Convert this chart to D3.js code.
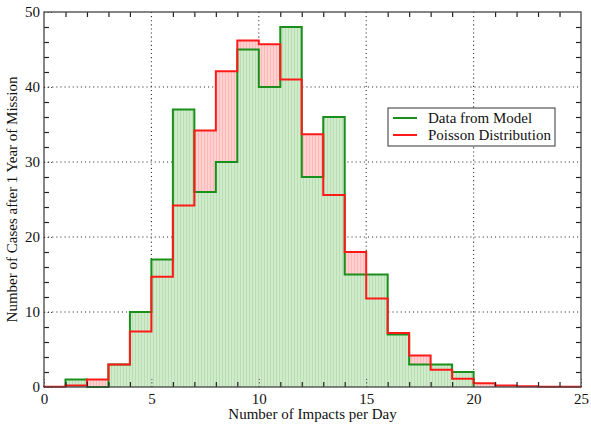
<!DOCTYPE html>
<meta charset="utf-8">
<html>
<head>
<title>Impacts histogram</title>
<script src="https://d3js.org/d3.v7.min.js"></script>
<style>
body { margin: 0; background: #fff; }
svg text { font-family: "Liberation Serif", "Times New Roman", "DejaVu Serif", serif !important; }
.grid line { stroke: #333; stroke-width: 1.1px; stroke-dasharray: 1.1,3; }
</style>
</head>
<body>
<script>
// histogram from the model, bins of width 1 starting at 1
var modelStart = 1;
var modelCounts = [1, 0, 3, 10, 17, 37, 26, 30, 45, 40, 48, 28, 36, 15, 15, 7, 3, 3, 2];
// poisson distribution, bins of width 1 starting at 0
var poissonStart = 0;
var poissonCounts = [0.05, 0.2, 1.0, 3.0, 7.4, 14.7, 24.2, 34.2, 42.1, 46.2, 45.7, 41.0, 33.7,
                     25.6, 18.0, 11.8, 7.2, 4.2, 2.3, 1.1, 0.5, 0.2, 0.1, 0.05, 0.02];
var xMajor = [0, 5, 10, 15, 20, 25];
var yMajor = [0, 10, 20, 30, 40, 50];
var legendNames = ["Data from Model", "Poisson Distribution"];

var W = 591, H = 424;
var mLeft = 44, mRight = 581, mTop = 12, mBottom = 387;

var svg = d3.select("body").append("svg").attr("width", W).attr("height", H);

var x = d3.scaleLinear().domain([0, 25]).range([mLeft, mRight]);
var y = d3.scaleLinear().domain([0, 50]).range([mBottom, mTop]);

// hatch patterns for the fills
var defs = svg.append("defs");
function hatch(id, base, stripe) {
  var p = defs.append("pattern").attr("id", id).attr("patternUnits", "userSpaceOnUse")
    .attr("width", 3).attr("height", 3);
  p.append("rect").attr("width", 3).attr("height", 3).attr("fill", base);
  p.append("rect").attr("width", 1).attr("height", 3).attr("fill", stripe);
}
hatch("gfill", "#d0ebcb", "#b9deb2");
hatch("rfill", "#ffd0d0", "#ffb8b8");

// grid
var grid = svg.append("g").attr("class", "grid");
grid.selectAll(".gx").data(xMajor.slice(1, -1)).enter().append("line")
  .attr("x1", d => x(d)).attr("x2", d => x(d)).attr("y1", mTop).attr("y2", mBottom);
grid.selectAll(".gy").data(yMajor.slice(1, -1)).enter().append("line")
  .attr("y1", d => y(d)).attr("y2", d => y(d)).attr("x1", mLeft).attr("x2", mRight);

// turn bin counts into step outline points
function steps(start, counts) {
  var pts = [[start, 0]];
  counts.forEach(function (v, i) {
    pts.push([start + i, v]);
    pts.push([start + i + 1, v]);
  });
  pts.push([start + counts.length, 0]);
  return pts;
}
var gPts = steps(modelStart, modelCounts);
var rPts = steps(poissonStart, poissonCounts);

var area = d3.area().x(d => x(d[0])).y0(y(0)).y1(d => y(d[1]));
var line = d3.line().x(d => x(d[0])).y(d => y(d[1]));

svg.append("path").attr("d", area(rPts)).attr("fill", "url(#rfill)");
svg.append("path").attr("d", area(gPts)).attr("fill", "url(#gfill)");
svg.append("path").attr("d", line(gPts)).attr("fill", "none")
  .attr("stroke", "#1b8f1b").attr("stroke-width", 2);
svg.append("path").attr("d", line(rPts)).attr("fill", "none")
  .attr("stroke", "#ff1a1a").attr("stroke-width", 2);

// axes: minor ticks solid, inward on all four sides
var xMinor = d3.range(1, 25).filter(d => d % 5 !== 0);
var yMinor = d3.range(2, 50, 2).filter(d => d % 10 !== 0);

function minor(axis, vals, tr) {
  var g = svg.append("g").attr("transform", tr)
    .call(axis.tickValues(vals).tickSizeInner(-5).tickSizeOuter(0).tickFormat(""));
  g.select(".domain").remove();
  g.selectAll(".tick line").attr("stroke", "#222").attr("stroke-width", 1.2);
}
minor(d3.axisBottom(x), xMinor, "translate(0," + mBottom + ")");
minor(d3.axisTop(x), xMinor, "translate(0," + mTop + ")");
minor(d3.axisLeft(y), yMinor, "translate(" + mLeft + ",0)");
minor(d3.axisRight(y), yMinor, "translate(" + mRight + ",0)");

// major ticks, dotted like the grid, with labels
var xAxis = svg.append("g").attr("transform", "translate(0," + mBottom + ")")
  .call(d3.axisBottom(x).tickValues(xMajor).tickSizeInner(-8).tickSizeOuter(0).tickPadding(6));
xAxis.select(".domain").remove();
xAxis.selectAll(".tick line").attr("stroke", "#222").attr("stroke-dasharray", "1.1,2.5");
xAxis.selectAll("text").attr("font-size", 15).attr("fill", "#111");

var yAxis = svg.append("g").attr("transform", "translate(" + mLeft + ",0)")
  .call(d3.axisLeft(y).tickValues(yMajor).tickSizeInner(-8).tickSizeOuter(0).tickPadding(4));
yAxis.select(".domain").remove();
yAxis.selectAll(".tick line").attr("stroke", "#222").attr("stroke-dasharray", "1.1,2.5");
yAxis.selectAll("text").attr("font-size", 15).attr("fill", "#111");

// frame
svg.append("rect").attr("x", mLeft).attr("y", mTop)
  .attr("width", mRight - mLeft).attr("height", mBottom - mTop)
  .attr("fill", "none").attr("stroke", "#444").attr("stroke-width", 1.3);

// axis titles
svg.append("text").attr("x", (mLeft + mRight) / 2).attr("y", 419)
  .attr("text-anchor", "middle").attr("font-size", 15).attr("fill", "#111")
  .text("Number of Impacts per Day");
svg.append("text").attr("transform", "translate(17," + (mTop + mBottom) / 2 + ") rotate(-90)")
  .attr("text-anchor", "middle").attr("font-size", 15).attr("fill", "#111")
  .text("Number of Cases after 1 Year of Mission");

// legend
var leg = svg.append("g").attr("transform", "translate(388,108)");
leg.append("rect").attr("width", 167).attr("height", 38)
  .attr("fill", "#fff").attr("stroke", "#333").attr("stroke-width", 1);
var legColors = ["#1b8f1b", "#ff1a1a"];
legendNames.forEach(function (name, i) {
  leg.append("line").attr("x1", 5).attr("x2", 29).attr("y1", 10 + i * 17).attr("y2", 10 + i * 17)
    .attr("stroke", legColors[i]).attr("stroke-width", 2);
  leg.append("text").attr("x", 40).attr("y", 15 + i * 17).attr("font-size", 15)
    .attr("fill", "#111").text(name);
});
</script>
</body>
</html>
